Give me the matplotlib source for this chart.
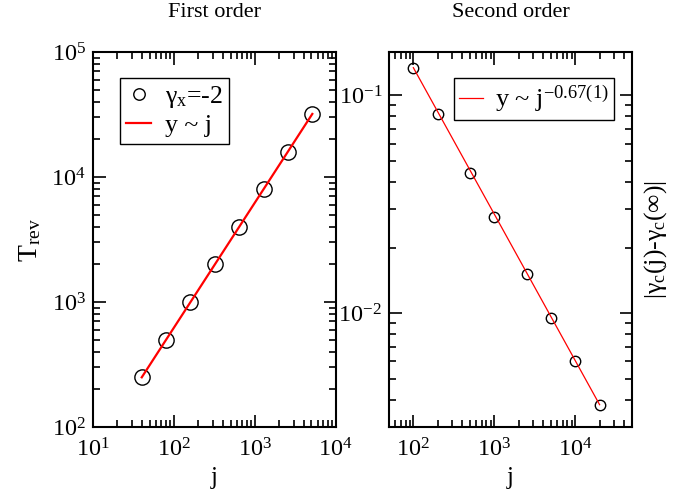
import matplotlib
matplotlib.use("Agg")
import matplotlib.pyplot as plt
from matplotlib.ticker import LogLocator, LogFormatterMathtext, NullFormatter

plt.rcParams['font.family'] = ['Liberation Serif', 'DejaVu Serif']
plt.rcParams['mathtext.fontset'] = 'custom'
plt.rcParams['mathtext.rm'] = 'Liberation Serif'
plt.rcParams['mathtext.it'] = 'Liberation Serif:italic'
plt.rcParams['mathtext.bf'] = 'Liberation Serif:bold'

# first order transition: reversal time vs j
first_j = [40, 80, 160, 320, 640, 1280, 2560, 5120]
first_T = [250, 500, 1000, 2000, 4000, 8000, 16000, 32000]

# second order transition: distance of gamma_c from its limit
second_j = [100, 200, 500, 1000, 2500, 5000, 10000, 20000]
second_gap = [0.1335, 0.0824, 0.0440, 0.0276, 0.0151, 0.0095, 0.0060, 0.0038]
fit_j = [100, 20000]
fit_gap = [0.134, 0.0038]

fig = plt.figure(figsize=(6.84, 4.96), dpi=100)
ax1 = fig.add_axes([0.136, 0.139, 0.355, 0.756])
ax2 = fig.add_axes([0.5687, 0.139, 0.355, 0.756])

def style_axis(ax):
    ax.set_xscale('log')
    ax.set_yscale('log')
    for s in ax.spines.values():
        s.set_linewidth(1.5)
    ax.tick_params(which='both', direction='in', top=True, right=True, width=1.2)
    ax.tick_params(which='major', length=9, labelsize=17.5)
    ax.tick_params(axis='x', which='major', pad=8)
    ax.tick_params(axis='y', which='major', pad=5)
    ax.tick_params(which='minor', length=5)
    for axis in (ax.xaxis, ax.yaxis):
        axis.set_major_locator(LogLocator(base=10, numticks=10))
        axis.set_minor_locator(LogLocator(base=10, subs=range(2, 10), numticks=20))
        axis.set_major_formatter(LogFormatterMathtext())
        axis.set_minor_formatter(NullFormatter())

# left panel
style_axis(ax1)
ax1.plot(first_j, first_T, 'o', mfc='none', mec='black', ms=11, mew=1.0,
         label='γ$_{\\mathrm{x}}$=-2', zorder=2)
ax1.plot(first_j, first_T, '-', color='red', lw=1.6, label='y ~ j', zorder=3)
ax1.set_xlim(10, 1e4)
ax1.set_ylim(100, 1e5)
ax1.set_title('First order', fontsize=16, pad=25)
ax1.set_xlabel('j', fontsize=18, labelpad=4)
ax1.set_ylabel('T$_{\\mathrm{rev}}$', fontsize=20, labelpad=6)
leg1 = ax1.legend(loc='upper left', bbox_to_anchor=(0.111, 0.931), borderaxespad=0,
                  fontsize=18.5, fancybox=False, edgecolor='black', framealpha=1,
                  handlelength=0.95, handletextpad=0.55, borderpad=0.25, labelspacing=0.15,
                  markerscale=0.75)
leg1.get_frame().set_linewidth(1.0)

# right panel
style_axis(ax2)
ax2.plot(second_j, second_gap, 'o', mfc='none', mec='black', ms=7.5, mew=1.0, zorder=2)
ax2.plot(fit_j, fit_gap, '-', color='red', lw=0.9, label='y ~ j$^{\\mathrm{-0.67(1)}}$', zorder=3)
ax2.set_xlim(50, 5e4)
ax2.set_ylim(0.003, 0.158)
ax2.set_title('Second order', fontsize=16, pad=25)
ax2.set_xlabel('j', fontsize=18, labelpad=4)
leg2 = ax2.legend(loc='upper left', bbox_to_anchor=(0.267, 0.931), borderaxespad=0,
                  fontsize=19, fancybox=False, edgecolor='black', framealpha=1,
                  handlelength=0.9, handletextpad=0.45, borderpad=0.2)
leg2.get_frame().set_linewidth(1.0)

fig.text(0.958, 0.518, '|γ$_{\\mathrm{c}}$(j)-γ$_{\\mathrm{c}}$(∞)|', rotation=90,
         ha='center', va='center', fontsize=18.5)

fig.savefig('out.png', dpi=100)
